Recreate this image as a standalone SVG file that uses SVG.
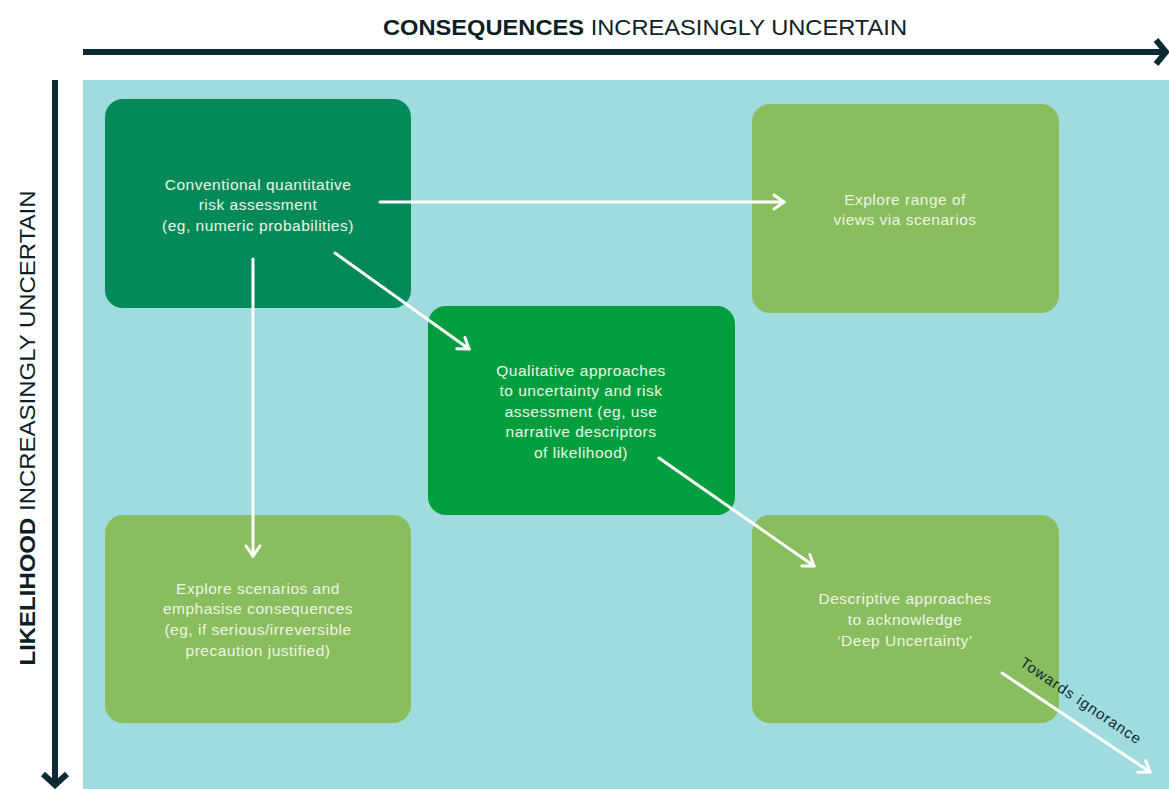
<svg xmlns="http://www.w3.org/2000/svg" width="1169" height="789" viewBox="0 0 1169 789">
<defs>
<style>
.t{font-family:"Liberation Sans",Arial,sans-serif;font-size:15.5px;letter-spacing:0.5px;fill:#eef5e6;text-anchor:middle}
.axis{font-family:"Liberation Sans",Arial,sans-serif;font-size:22px;fill:#0d1f26}
.c{fill:none;stroke:#ffffff;stroke-width:3;stroke-linecap:round}
.d{fill:none;stroke:#0b2a33;stroke-width:6}
</style>
<marker id="wa" viewBox="0 0 14 18" markerWidth="14" markerHeight="18" refX="12" refY="9" orient="auto" markerUnits="userSpaceOnUse">
<path d="M2,2 L12,9 L2,16" fill="none" stroke="#ffffff" stroke-width="3" stroke-linecap="round"/>
</marker>
</defs>
<rect width="1169" height="789" fill="#ffffff"/>
<rect x="83" y="80" width="1086" height="709" fill="#a0dcdd"/>
<g id="axes">
<line class="d" x1="83" y1="52" x2="1164" y2="52"/>
<path class="d" d="M1156,40 L1166,52 L1156,64" stroke-width="5"/>
<line class="d" x1="55" y1="80" x2="55" y2="784"/>
<path class="d" d="M43,774 L55,785 L67,774" stroke-width="5"/>
<text class="axis" x="645" y="35" text-anchor="middle" textLength="524" lengthAdjust="spacingAndGlyphs"><tspan font-weight="bold">CONSEQUENCES</tspan> INCREASINGLY UNCERTAIN</text>
<text class="axis" transform="translate(35,428) rotate(-90)" text-anchor="middle" textLength="475" lengthAdjust="spacingAndGlyphs"><tspan font-weight="bold">LIKELIHOOD</tspan> INCREASINGLY UNCERTAIN</text>
</g>
<g id="n1">
<rect x="105" y="99" width="306" height="209" rx="18" fill="#048a59"/>
<text class="t" x="258" y="190">Conventional quantitative</text>
<text class="t" x="258" y="210">risk assessment</text>
<text class="t" x="258" y="231">(eg, numeric probabilities)</text>
</g>
<g id="n2">
<rect x="752" y="104" width="307" height="209" rx="18" fill="#8abd5e"/>
<text class="t" x="905" y="205">Explore range of</text>
<text class="t" x="905" y="225">views via scenarios</text>
</g>
<g id="n3">
<rect x="428" y="306" width="307" height="209" rx="18" fill="#019e3e"/>
<text class="t" x="581" y="376">Qualitative approaches</text>
<text class="t" x="581" y="396">to uncertainty and risk</text>
<text class="t" x="581" y="417">assessment (eg, use</text>
<text class="t" x="581" y="437">narrative descriptors</text>
<text class="t" x="581" y="458">of likelihood)</text>
</g>
<g id="n4">
<rect x="105" y="515" width="306" height="208" rx="18" fill="#8abd5e"/>
<text class="t" x="258" y="594">Explore scenarios and</text>
<text class="t" x="258" y="614">emphasise consequences</text>
<text class="t" x="258" y="635">(eg, if serious/irreversible</text>
<text class="t" x="258" y="656">precaution justified)</text>
</g>
<g id="n5">
<rect x="752" y="515" width="307" height="208" rx="18" fill="#8abd5e"/>
<text class="t" x="905" y="604">Descriptive approaches</text>
<text class="t" x="905" y="625">to acknowledge</text>
<text class="t" x="905" y="646">‘Deep Uncertainty’</text>
</g>
<g id="connectors">
<line class="c" x1="380" y1="202" x2="784" y2="202" marker-end="url(#wa)"/>
<line class="c" x1="253" y1="259" x2="253" y2="556" marker-end="url(#wa)"/>
<line class="c" x1="335" y1="253" x2="469" y2="349" marker-end="url(#wa)"/>
<line class="c" x1="659" y1="458" x2="814" y2="566" marker-end="url(#wa)"/>
<line class="c" x1="1002" y1="673" x2="1150" y2="772" marker-end="url(#wa)"/>
<text transform="translate(1019,665) rotate(34)" font-family="Liberation Sans,Arial,sans-serif" font-size="15" letter-spacing="1" fill="#0d2a33">Towards ignorance</text>
</g>
</svg>
